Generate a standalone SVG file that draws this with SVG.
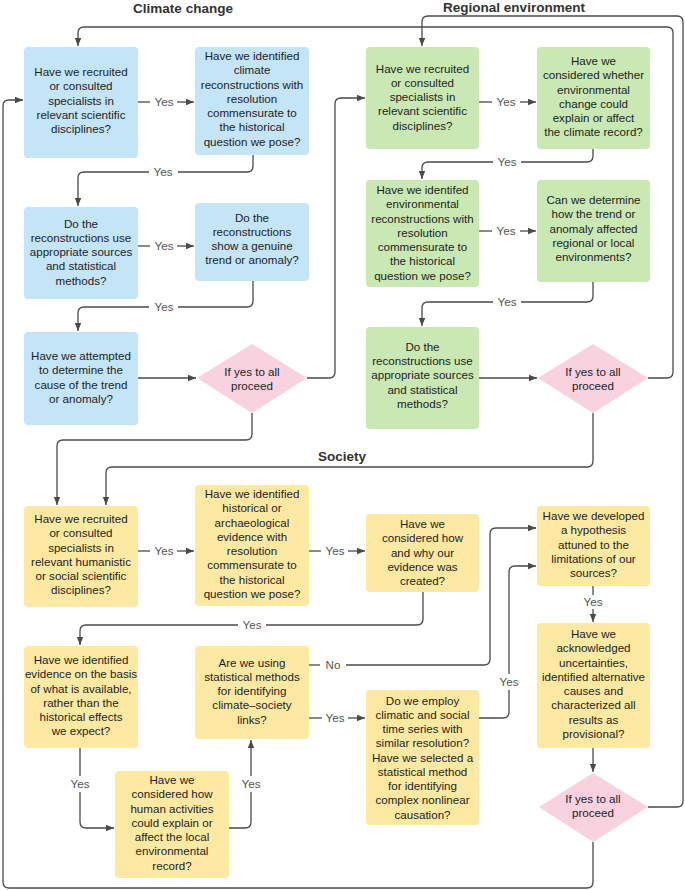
<svg xmlns="http://www.w3.org/2000/svg" width="685" height="890" viewBox="0 0 685 890">
<defs>
<marker id="a" viewBox="0 0 8 8" refX="8" refY="4" markerWidth="8" markerHeight="8" markerUnits="userSpaceOnUse" orient="auto"><path d="M0,0.8 L8,4 L0,7.2 z" fill="#4a4a4a"/></marker>
<style>
.t{font-family:"Liberation Sans",Arial,sans-serif;font-size:11.6px;fill:#1e1e1e;text-anchor:middle}
.h{font-family:"Liberation Sans",Arial,sans-serif;font-size:13.5px;font-weight:bold;fill:#333;text-anchor:middle}
.l{font-family:"Liberation Sans",Arial,sans-serif;font-size:11.6px;fill:#555;text-anchor:middle}
.b{fill:#c4e4f7}.g{fill:#c9e8b4}.y{fill:#fde9a2}.p{fill:#f8d2de}
.c path{fill:none;stroke:#4a4a4a;stroke-width:1.3}
.c path.ar{marker-end:url(#a)}
</style>
</defs>
<rect width="685" height="890" fill="#fff"/>
<text class="h" x="183" y="12.5">Climate change</text>
<text class="h" x="514" y="11.5">Regional environment</text>
<text class="h" x="342" y="461">Society</text>

<g class="c" id="connectors">
<path d="M138,102 H150"/><path class="ar" d="M177,102 H194"/>
<path d="M253,155 V166 Q253,172 247,172 H178"/><path class="ar" d="M149,172 H84 Q78,172 78,178 V206"/>
<path d="M138,246 H150"/><path class="ar" d="M177,246 H194"/>
<path d="M253,281 V301 Q253,307 247,307 H178"/><path class="ar" d="M149,307 H84 Q78,307 78,313 V331"/>
<path class="ar" d="M138,378 H196"/>
<path class="ar" d="M307,378 H329 Q335,378 335,372 V104 Q335,98 341,98 H365"/>
<path d="M479,102 H492"/><path class="ar" d="M520,102 H536"/>
<path d="M593,149 V156 Q593,162 587,162 H521"/><path class="ar" d="M493,162 H428 Q422,162 422,168 V179"/>
<path d="M479,231 H492"/><path class="ar" d="M520,231 H536"/>
<path d="M593,282 V296 Q593,302 587,302 H521"/><path class="ar" d="M493,302 H428 Q422,302 422,308 V326"/>
<path class="ar" d="M479,378 H537"/>
<path class="ar" d="M648,378 H667 Q673,378 673,372 V33 Q673,27 667,27 H84 Q78,27 78,33 V46"/>
<path class="ar" d="M252,413 V434 Q252,440 246,440 H63 Q57,440 57,446 V505"/>
<path class="ar" d="M593,413 V461 Q593,467 587,467 H112 Q106,467 106,473 V505"/>
<path d="M138,551 H150"/><path class="ar" d="M177,551 H194"/>
<path d="M309,551 H321"/><path class="ar" d="M348,551 H365"/>
<path d="M423,592 V619 Q423,625 417,625 H266"/><path class="ar" d="M238,625 H86 Q80,625 80,631 V645"/>
<path d="M80,748 V776"/><path class="ar" d="M80,792 V822 Q80,828 86,828 H114"/>
<path d="M229,828 H245 Q251,828 251,822 V792"/><path class="ar" d="M251,776 V740"/>
<path d="M309,665 H320"/><path class="ar" d="M346,665 H484 Q490,665 490,659 V534 Q490,528 496,528 H536"/>
<path d="M309,718 H322"/><path class="ar" d="M348,718 H365"/>
<path d="M479,718 H503 Q509,718 509,712 V690"/><path class="ar" d="M509,674 V572 Q509,566 515,566 H536"/>
<path d="M593,586 V595"/><path class="ar" d="M593,609 V622"/>
<path class="ar" d="M593,748 V772"/>
<path class="ar" d="M648,807 H677 Q683,807 683,801 V22 Q683,16 677,16 H428 Q422,16 422,22 V46"/>
<path class="ar" d="M593,842 V882 Q593,888 587,888 H9 Q3,888 3,882 V106 Q3,100 9,100 H23"/>
<text class="l" x="164" y="106">Yes</text>
<text class="l" x="163" y="176">Yes</text>
<text class="l" x="164" y="250">Yes</text>
<text class="l" x="164" y="311">Yes</text>
<text class="l" x="506" y="106">Yes</text>
<text class="l" x="507" y="166">Yes</text>
<text class="l" x="506" y="235">Yes</text>
<text class="l" x="507" y="306">Yes</text>
<text class="l" x="164" y="555">Yes</text>
<text class="l" x="335" y="555">Yes</text>
<text class="l" x="252" y="629">Yes</text>
<text class="l" x="593" y="606">Yes</text>
<text class="l" x="80" y="788">Yes</text>
<text class="l" x="251" y="788">Yes</text>
<text class="l" x="333" y="669">No</text>
<text class="l" x="335" y="722">Yes</text>
<text class="l" x="509" y="686">Yes</text>
</g>

<g id="b1"><rect class="b" x="24" y="47" width="114" height="111" rx="4"/>
<text class="t" y="76"><tspan x="81">Have we recruited</tspan><tspan x="81" dy="14.25">or consulted</tspan><tspan x="81" dy="14.25">specialists in</tspan><tspan x="81" dy="14.25">relevant scientific</tspan><tspan x="81" dy="14.25">disciplines?</tspan></text></g>
<g id="b2"><rect class="b" x="195" y="47" width="114" height="108" rx="4"/>
<text class="t" y="60"><tspan x="252">Have we identified</tspan><tspan x="252" dy="14.25">climate</tspan><tspan x="252" dy="14.25">reconstructions with</tspan><tspan x="252" dy="14.25">resolution</tspan><tspan x="252" dy="14.25">commensurate to</tspan><tspan x="252" dy="14.25">the historical</tspan><tspan x="252" dy="14.25">question we pose?</tspan></text></g>
<g id="b3"><rect class="b" x="24" y="207" width="114" height="92" rx="4"/>
<text class="t" y="227.5"><tspan x="81">Do the</tspan><tspan x="81" dy="14.25">reconstructions use</tspan><tspan x="81" dy="14.25">appropriate sources</tspan><tspan x="81" dy="14.25">and statistical</tspan><tspan x="81" dy="14.25">methods?</tspan></text></g>
<g id="b4"><rect class="b" x="195" y="203" width="114" height="78" rx="4"/>
<text class="t" y="221.5"><tspan x="252">Do the</tspan><tspan x="252" dy="14.25">reconstructions</tspan><tspan x="252" dy="14.25">show a genuine</tspan><tspan x="252" dy="14.25">trend or anomaly?</tspan></text></g>
<g id="b5"><rect class="b" x="24" y="332" width="114" height="93" rx="4"/>
<text class="t" y="360"><tspan x="81">Have we attempted</tspan><tspan x="81" dy="14.25">to determine the</tspan><tspan x="81" dy="14.25">cause of the trend</tspan><tspan x="81" dy="14.25">or anomaly?</tspan></text></g>
<g id="d1"><polygon class="p" points="197,378 252,344 307,378 252,413"/>
<text class="t" y="375.7"><tspan x="252">If yes to all</tspan><tspan x="252" dy="14.25">proceed</tspan></text></g>

<g id="g1"><rect class="g" x="366" y="47" width="113" height="102" rx="4"/>
<text class="t" y="72.5"><tspan x="422.5">Have we recruited</tspan><tspan x="422.5" dy="14.25">or consulted</tspan><tspan x="422.5" dy="14.25">specialists in</tspan><tspan x="422.5" dy="14.25">relevant scientific</tspan><tspan x="422.5" dy="14.25">disciplines?</tspan></text></g>
<g id="g2"><rect class="g" x="537" y="47" width="113" height="102" rx="4"/>
<text class="t" y="65"><tspan x="593.5">Have we</tspan><tspan x="593.5" dy="14.25">considered whether</tspan><tspan x="593.5" dy="14.25">environmental</tspan><tspan x="593.5" dy="14.25">change could</tspan><tspan x="593.5" dy="14.25">explain or affect</tspan><tspan x="593.5" dy="14.25">the climate record?</tspan></text></g>
<g id="g3"><rect class="g" x="366" y="180" width="113" height="107" rx="4"/>
<text class="t" y="194"><tspan x="422.5">Have we identifed</tspan><tspan x="422.5" dy="14.25">environmental</tspan><tspan x="422.5" dy="14.25">reconstructions with</tspan><tspan x="422.5" dy="14.25">resolution</tspan><tspan x="422.5" dy="14.25">commensurate to</tspan><tspan x="422.5" dy="14.25">the historical</tspan><tspan x="422.5" dy="14.25">question we pose?</tspan></text></g>
<g id="g4"><rect class="g" x="537" y="180" width="113" height="102" rx="4"/>
<text class="t" y="204"><tspan x="593.5">Can we determine</tspan><tspan x="593.5" dy="14.25">how the trend or</tspan><tspan x="593.5" dy="14.25">anomaly affected</tspan><tspan x="593.5" dy="14.25">regional or local</tspan><tspan x="593.5" dy="14.25">environments?</tspan></text></g>
<g id="g5"><rect class="g" x="366" y="327" width="113" height="102" rx="4"/>
<text class="t" y="350.8"><tspan x="422.5">Do the</tspan><tspan x="422.5" dy="14.25">reconstructions use</tspan><tspan x="422.5" dy="14.25">appropriate sources</tspan><tspan x="422.5" dy="14.25">and statistical</tspan><tspan x="422.5" dy="14.25">methods?</tspan></text></g>
<g id="d2"><polygon class="p" points="538,378 593,344 648,378 593,413"/>
<text class="t" y="376"><tspan x="593">If yes to all</tspan><tspan x="593" dy="14.25">proceed</tspan></text></g>

<g id="y1"><rect class="y" x="24" y="506" width="114" height="101" rx="4"/>
<text class="t" y="523"><tspan x="81">Have we recruited</tspan><tspan x="81" dy="14.25">or consulted</tspan><tspan x="81" dy="14.25">specialists in</tspan><tspan x="81" dy="14.25">relevant humanistic</tspan><tspan x="81" dy="14.25">or social scientific</tspan><tspan x="81" dy="14.25">disciplines?</tspan></text></g>
<g id="y2"><rect class="y" x="195" y="485" width="114" height="121" rx="4"/>
<text class="t" y="498"><tspan x="252">Have we identified</tspan><tspan x="252" dy="14.25">historical or</tspan><tspan x="252" dy="14.25">archaeological</tspan><tspan x="252" dy="14.25">evidence with</tspan><tspan x="252" dy="14.25">resolution</tspan><tspan x="252" dy="14.25">commensurate to</tspan><tspan x="252" dy="14.25">the historical</tspan><tspan x="252" dy="14.25">question we pose?</tspan></text></g>
<g id="y3"><rect class="y" x="366" y="514" width="113" height="78" rx="4"/>
<text class="t" y="528"><tspan x="422.5">Have we</tspan><tspan x="422.5" dy="14.25">considered how</tspan><tspan x="422.5" dy="14.25">and why our</tspan><tspan x="422.5" dy="14.25">evidence was</tspan><tspan x="422.5" dy="14.25">created?</tspan></text></g>
<g id="yh"><rect class="y" x="537" y="506" width="113" height="80" rx="4"/>
<text class="t" y="520"><tspan x="593.5">Have we developed</tspan><tspan x="593.5" dy="14.25">a hypothesis</tspan><tspan x="593.5" dy="14.25">attuned to the</tspan><tspan x="593.5" dy="14.25">limitations of our</tspan><tspan x="593.5" dy="14.25">sources?</tspan></text></g>
<g id="ya"><rect class="y" x="537" y="623" width="113" height="125" rx="4"/>
<text class="t" y="638"><tspan x="593.5">Have we</tspan><tspan x="593.5" dy="14.25">acknowledged</tspan><tspan x="593.5" dy="14.25">uncertainties,</tspan><tspan x="593.5" dy="14.25">identified alternative</tspan><tspan x="593.5" dy="14.25">causes and</tspan><tspan x="593.5" dy="14.25">characterized all</tspan><tspan x="593.5" dy="14.25">results as</tspan><tspan x="593.5" dy="14.25">provisional?</tspan></text></g>
<g id="d3"><polygon class="p" points="539,807 593,773 648,807 593,842"/>
<text class="t" y="803"><tspan x="593">If yes to all</tspan><tspan x="593" dy="14.25">proceed</tspan></text></g>
<g id="y4"><rect class="y" x="24" y="646" width="114" height="102" rx="4"/>
<text class="t" y="664"><tspan x="81">Have we identified</tspan><tspan x="81" dy="14.25">evidence on the basis</tspan><tspan x="81" dy="14.25">of what is available,</tspan><tspan x="81" dy="14.25">rather than the</tspan><tspan x="81" dy="14.25">historical effects</tspan><tspan x="81" dy="14.25">we expect?</tspan></text></g>
<g id="y5"><rect class="y" x="195" y="646" width="114" height="93" rx="4"/>
<text class="t" y="666.7"><tspan x="252">Are we using</tspan><tspan x="252" dy="14.25">statistical methods</tspan><tspan x="252" dy="14.25">for identifying</tspan><tspan x="252" dy="14.25">climate–society</tspan><tspan x="252" dy="14.25">links?</tspan></text></g>
<g id="y6"><rect class="y" x="115" y="771" width="114" height="107" rx="4"/>
<text class="t" y="784"><tspan x="172">Have we</tspan><tspan x="172" dy="14.25">considered how</tspan><tspan x="172" dy="14.25">human activities</tspan><tspan x="172" dy="14.25">could explain or</tspan><tspan x="172" dy="14.25">affect the local</tspan><tspan x="172" dy="14.25">environmental</tspan><tspan x="172" dy="14.25">record?</tspan></text></g>
<g id="y7"><rect class="y" x="366" y="690" width="113" height="135" rx="4"/>
<text class="t" y="704.7"><tspan x="422.5">Do we employ</tspan><tspan x="422.5" dy="14.25">climatic and social</tspan><tspan x="422.5" dy="14.25">time series with</tspan><tspan x="422.5" dy="14.25">similar resolution?</tspan><tspan x="422.5" dy="14.25">Have we selected a</tspan><tspan x="422.5" dy="14.25">statistical method</tspan><tspan x="422.5" dy="14.25">for identifying</tspan><tspan x="422.5" dy="14.25">complex nonlinear</tspan><tspan x="422.5" dy="14.25">causation?</tspan></text></g>
</svg>
